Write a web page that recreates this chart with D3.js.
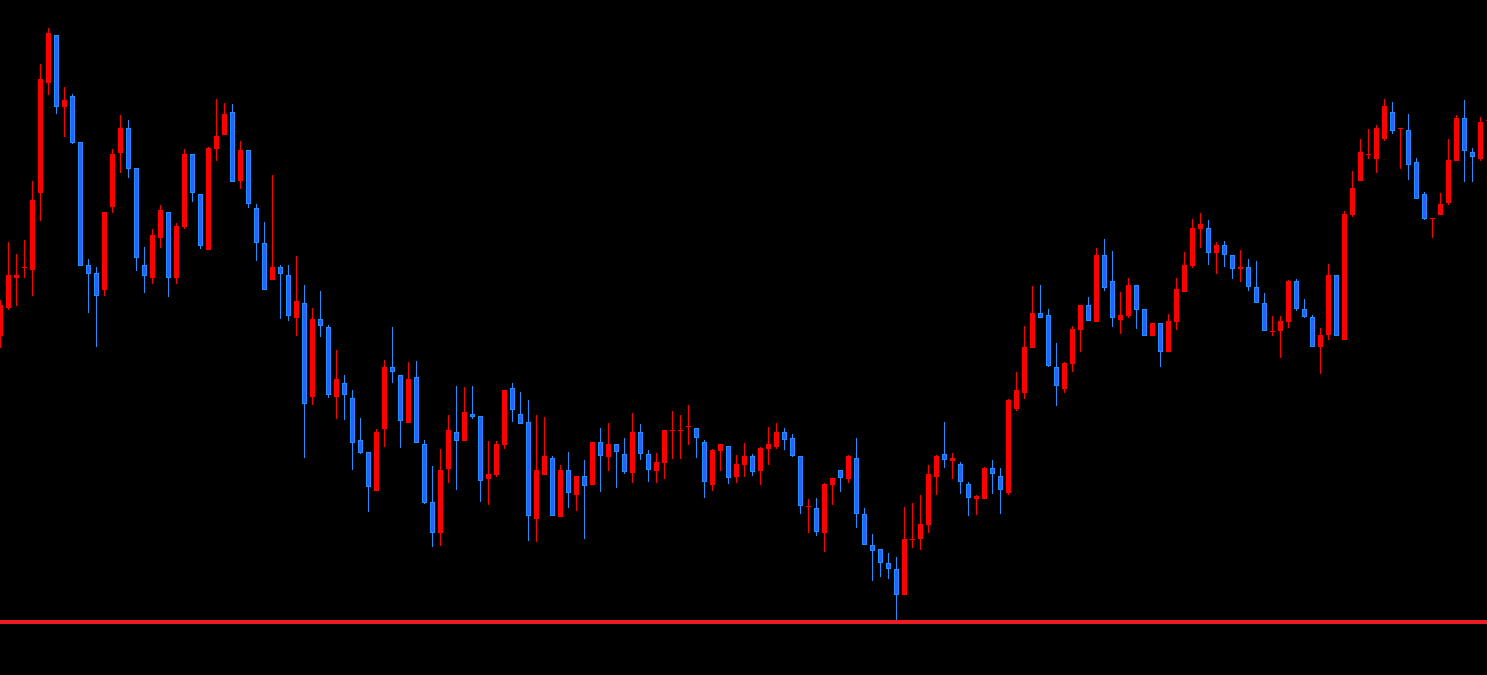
<!DOCTYPE html>
<html>
<head>
<meta charset="utf-8">
<script src="https://cdn.jsdelivr.net/npm/d3@7"></script>
<style>
html,body{margin:0;padding:0;background:#000;overflow:hidden;}
svg{display:block;}
</style>
</head>
<body>
<svg id="chart" width="1487" height="675"></svg>
<script>
const open = [339,367,397,408,405,482,592,640,568,579,533,410,402,385,468,522,547,507,410,397,437,463,397,448,521,481,425,526,540,563,494,525,467,432,395,408,400,357,372,278,356,348,278,292,277,235,223,184,246,308,300,252,298,231,173,142,206,243,234,261,259,196,200,230,287,261,253,156,200,217,158,205,180,199,190,233,218,231,221,202,243,221,204,212,245,245,249,247,233,190,224,229,198,210,219,204,226,228,243,237,219,169,167,142,190,205,196,217,161,130,126,112,106,80,136,136,150,198,221,214,211,191,176,176,207,199,182,266,282,327,362,360,308,286,311,345,370,353,420,394,355,359,390,366,339,352,323,353,383,409,446,447,422,430,420,406,408,388,372,344,344,353,394,366,358,328,340,400,335,460,494,521,516,536,563,547,545,513,481,457,460,472,514,557,523,516,555];
const high = [375,433,421,435,494,611,647,640,588,581,533,416,408,463,526,560,555,507,428,446,470,463,452,526,521,481,528,576,572,571,534,525,471,453,500,410,410,419,390,367,384,350,325,300,285,257,223,246,315,348,300,313,314,235,209,226,260,289,288,289,259,234,234,285,292,283,275,260,258,219,210,223,199,215,233,247,252,231,237,262,251,225,222,245,264,260,270,247,235,226,231,229,220,232,221,228,248,252,247,241,219,176,177,192,197,205,220,237,167,141,126,122,118,168,172,180,210,220,253,222,213,193,180,208,215,207,276,303,349,389,390,366,332,313,349,370,378,427,436,424,383,397,390,366,352,352,361,397,423,456,462,455,433,434,420,425,416,414,382,359,359,395,396,376,360,347,411,400,464,504,536,546,550,576,573,547,561,517,483,457,482,536,560,575,527,558,557];
const low = [327,365,369,397,379,454,580,561,538,531,409,362,328,379,462,502,497,404,382,391,427,378,391,446,473,426,425,514,540,493,486,467,414,385,395,356,354,339,217,270,338,277,256,255,205,221,163,184,228,292,227,252,232,171,128,129,192,185,234,256,173,170,198,226,253,251,134,133,200,159,158,167,164,136,190,183,204,187,201,192,215,193,192,196,216,216,230,217,177,184,204,191,192,198,199,190,210,226,225,218,161,142,139,123,170,183,192,147,130,94,98,96,55,80,127,125,142,180,207,196,181,159,160,176,181,161,180,264,276,327,357,308,269,282,303,323,354,353,384,348,341,357,346,339,339,308,323,345,383,407,427,410,401,408,396,393,384,372,344,339,317,347,364,357,328,301,335,339,335,458,494,516,502,534,541,506,495,476,455,437,460,470,514,493,493,514,553];
const close = [370,400,400,408,475,596,642,568,575,532,409,401,379,463,521,547,506,417,399,440,465,397,449,521,482,429,527,539,561,493,525,471,432,385,408,401,359,374,271,356,349,280,296,280,232,222,188,243,308,303,254,296,232,172,142,205,245,234,263,258,194,201,231,285,265,251,159,205,219,159,205,182,199,189,233,219,231,223,203,243,221,205,213,245,245,245,249,237,193,225,231,197,211,219,203,227,231,243,235,219,169,169,143,191,197,197,219,161,130,124,112,106,80,136,136,151,201,219,215,217,193,177,179,207,201,185,275,285,328,362,357,309,289,312,346,370,354,420,387,357,360,390,365,339,352,323,354,386,410,447,451,422,430,420,406,408,388,372,344,344,354,394,366,358,328,340,400,339,461,487,523,521,547,569,544,547,510,476,456,457,471,515,557,524,518,553,555];
const supportLevel = [53];

const W = 1487, H = 675;
const svg = d3.select("#chart");
svg.append("rect").attr("width", W).attr("height", H).attr("fill", "#000");

const idx = d3.range(open.length);
const x = d3.scaleLinear().domain([0, open.length - 1]).range([0.5, 8 * (open.length - 1) + 0.5]);
const y = d3.scaleLinear().domain([0, 675]).range([675, 0]);

const bull = "#ff0000";
const bearWick = "#1e90ff";
const bearFill = "#2f5cff";

const g = svg.append("g").attr("shape-rendering", "crispEdges");

// wicks
g.selectAll("line.wick").data(idx).join("line")
  .attr("class", "wick")
  .attr("x1", i => x(i)).attr("x2", i => x(i))
  .attr("y1", i => y(high[i])).attr("y2", i => y(low[i]))
  .attr("stroke", i => close[i] < open[i] ? bearWick : bull)
  .attr("stroke-width", 1);

// bodies
g.selectAll("rect.body").data(idx).join("rect")
  .attr("class", "body")
  .each(function(i) {
    const top = y(Math.max(open[i], close[i]));
    const bot = y(Math.min(open[i], close[i]));
    const sel = d3.select(this);
    if (close[i] < open[i]) {
      sel.attr("x", x(i) - 2).attr("width", 4)
         .attr("y", top + 0.5).attr("height", Math.max(0, bot - top - 1))
         .attr("fill", bearFill).attr("stroke", bearWick).attr("stroke-width", 1);
    } else {
      sel.attr("x", x(i) - 2.5).attr("width", 5)
         .attr("y", top).attr("height", Math.max(1, bot - top))
         .attr("fill", bull);
    }
  });

// horizontal level line
svg.selectAll("line.level").data(supportLevel).join("line")
  .attr("class", "level")
  .attr("x1", 0).attr("x2", W)
  .attr("y1", d => y(d)).attr("y2", d => y(d))
  .attr("stroke", "#ed1c24").attr("stroke-width", 4)
  .attr("shape-rendering", "crispEdges");
</script>
</body>
</html>
